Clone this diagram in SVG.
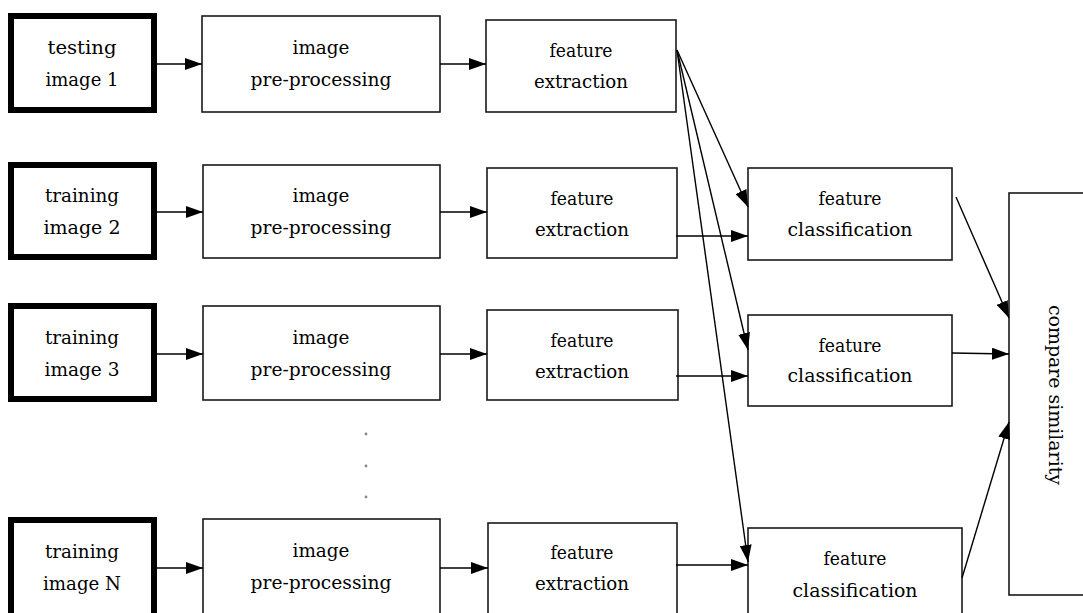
<svg xmlns="http://www.w3.org/2000/svg" width="1083" height="613" viewBox="0 0 1083 613">
<defs>
<marker id="ah" markerUnits="userSpaceOnUse" markerWidth="17" markerHeight="12" refX="17" refY="6" orient="auto">
<path d="M0,0 L17,6 L0,12 z" fill="#000"/>
</marker>
<style>
.in{fill:#fff;stroke:#000;stroke-width:6}
.bx{fill:#fff;stroke:#1a1a1a;stroke-width:1.6}
.t{font-family:"DejaVu Serif","Liberation Serif",serif;font-size:19px;fill:#000;text-anchor:middle}
.c{fill:none;stroke:#000;stroke-width:1.4;marker-end:url(#ah)}
</style>
</defs>
<rect width="1083" height="613" fill="#fff"/>
<g id="in1"><rect class="in" x="11" y="16" width="143" height="94"/><text class="t" x="82" y="54" textLength="69" lengthAdjust="spacingAndGlyphs">testing</text><text class="t" x="82" y="86" textLength="73" lengthAdjust="spacingAndGlyphs">image 1</text></g>
<g id="in2"><rect class="in" x="11" y="165" width="143" height="92"/><text class="t" x="82" y="202" textLength="74" lengthAdjust="spacingAndGlyphs">training</text><text class="t" x="82" y="234" textLength="77" lengthAdjust="spacingAndGlyphs">image 2</text></g>
<g id="in3"><rect class="in" x="11" y="306" width="143" height="93"/><text class="t" x="82" y="344" textLength="74" lengthAdjust="spacingAndGlyphs">training</text><text class="t" x="82" y="376" textLength="75" lengthAdjust="spacingAndGlyphs">image 3</text></g>
<g id="inN"><rect class="in" x="11" y="520" width="143" height="97"/><text class="t" x="82" y="558" textLength="74" lengthAdjust="spacingAndGlyphs">training</text><text class="t" x="82" y="590" textLength="78" lengthAdjust="spacingAndGlyphs">image N</text></g>

<g id="pp1"><rect class="bx" x="202" y="16" width="238" height="96"/><text class="t" x="321" y="54" textLength="57" lengthAdjust="spacingAndGlyphs">image</text><text class="t" x="321" y="86" textLength="141" lengthAdjust="spacingAndGlyphs">pre-processing</text></g>
<g id="pp2"><rect class="bx" x="203" y="165" width="237" height="93"/><text class="t" x="321" y="202" textLength="57" lengthAdjust="spacingAndGlyphs">image</text><text class="t" x="321" y="234" textLength="141" lengthAdjust="spacingAndGlyphs">pre-processing</text></g>
<g id="pp3"><rect class="bx" x="203" y="306" width="237" height="94"/><text class="t" x="321" y="344" textLength="57" lengthAdjust="spacingAndGlyphs">image</text><text class="t" x="321" y="376" textLength="141" lengthAdjust="spacingAndGlyphs">pre-processing</text></g>
<g id="ppN"><rect class="bx" x="203" y="519" width="237" height="100"/><text class="t" x="321" y="557" textLength="57" lengthAdjust="spacingAndGlyphs">image</text><text class="t" x="321" y="589" textLength="141" lengthAdjust="spacingAndGlyphs">pre-processing</text></g>

<g id="fe1"><rect class="bx" x="486" y="20" width="190" height="92"/><text class="t" x="581" y="57" textLength="63" lengthAdjust="spacingAndGlyphs">feature</text><text class="t" x="581" y="88" textLength="94" lengthAdjust="spacingAndGlyphs">extraction</text></g>
<g id="fe2"><rect class="bx" x="487" y="168" width="190" height="90"/><text class="t" x="582" y="205" textLength="63" lengthAdjust="spacingAndGlyphs">feature</text><text class="t" x="582" y="236" textLength="94" lengthAdjust="spacingAndGlyphs">extraction</text></g>
<g id="fe3"><rect class="bx" x="487" y="310" width="191" height="90"/><text class="t" x="582" y="347" textLength="63" lengthAdjust="spacingAndGlyphs">feature</text><text class="t" x="582" y="378" textLength="94" lengthAdjust="spacingAndGlyphs">extraction</text></g>
<g id="feN"><rect class="bx" x="488" y="523" width="189" height="96"/><text class="t" x="582" y="559" textLength="63" lengthAdjust="spacingAndGlyphs">feature</text><text class="t" x="582" y="590" textLength="94" lengthAdjust="spacingAndGlyphs">extraction</text></g>

<g id="cl1"><rect class="bx" x="748" y="168" width="204" height="92"/><text class="t" x="850" y="205" textLength="63" lengthAdjust="spacingAndGlyphs">feature</text><text class="t" x="850" y="236" textLength="125" lengthAdjust="spacingAndGlyphs">classification</text></g>
<g id="cl2"><rect class="bx" x="748" y="315" width="204" height="91"/><text class="t" x="850" y="352" textLength="63" lengthAdjust="spacingAndGlyphs">feature</text><text class="t" x="850" y="382" textLength="125" lengthAdjust="spacingAndGlyphs">classification</text></g>
<g id="clN"><rect class="bx" x="748" y="528" width="214" height="92"/><text class="t" x="855" y="565" textLength="63" lengthAdjust="spacingAndGlyphs">feature</text><text class="t" x="855" y="597" textLength="125" lengthAdjust="spacingAndGlyphs">classification</text></g>

<g id="cmp"><rect class="bx" x="1009" y="193" width="90" height="402"/><text class="t" transform="translate(1049,395) rotate(90)" x="0" y="0" textLength="180" lengthAdjust="spacingAndGlyphs">compare similarity</text></g>

<g id="dots" fill="#888"><circle cx="366" cy="434" r="1.4"/><circle cx="366" cy="466" r="1.4"/><circle cx="366" cy="497" r="1.4"/></g>

<g id="connectors">
<line class="c" x1="157" y1="64" x2="202" y2="64"/>
<line class="c" x1="157" y1="212" x2="203" y2="212"/>
<line class="c" x1="157" y1="354" x2="203" y2="354"/>
<line class="c" x1="157" y1="568" x2="203" y2="568"/>
<line class="c" x1="440" y1="64" x2="486" y2="64"/>
<line class="c" x1="440" y1="212" x2="487" y2="212"/>
<line class="c" x1="440" y1="354" x2="487" y2="354"/>
<line class="c" x1="440" y1="568" x2="488" y2="568"/>
<line class="c" x1="676" y1="236" x2="748" y2="236"/>
<line class="c" x1="676" y1="376" x2="748" y2="376"/>
<line class="c" x1="676" y1="565" x2="748" y2="565"/>
<line class="c" x1="677" y1="50" x2="748" y2="207"/>
<line class="c" x1="677" y1="50" x2="748" y2="350"/>
<line class="c" x1="677" y1="50" x2="748" y2="562"/>
<line class="c" x1="956" y1="197" x2="1009" y2="318"/>
<line class="c" x1="952" y1="353" x2="1009" y2="354"/>
<line class="c" x1="962" y1="578" x2="1009" y2="422"/>
</g>
</svg>
